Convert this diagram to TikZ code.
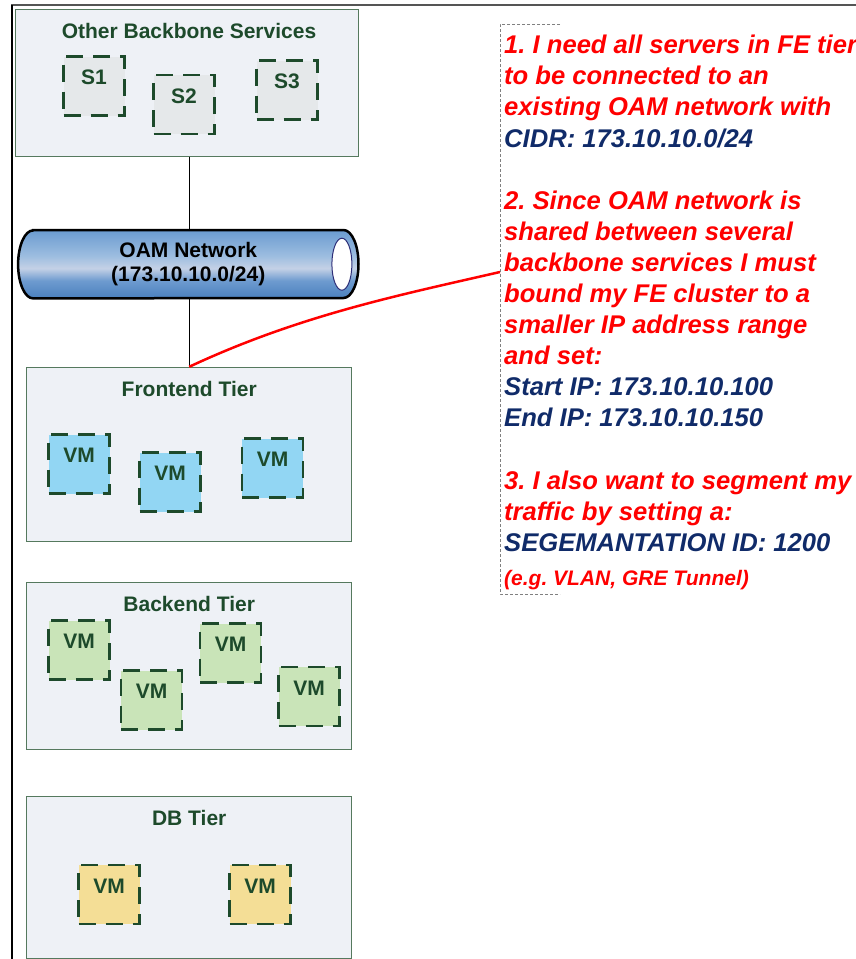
\documentclass[tikz,border=0pt]{standalone}
\usepackage{fontspec}
\setmainfont{Liberation Sans}
\usetikzlibrary{calc}
\definecolor{tierfill}{HTML}{EEF1F6}
\definecolor{tierdraw}{HTML}{55795E}
\definecolor{dkgreen}{HTML}{1D4A2B}
\definecolor{sfill}{HTML}{E5E8EA}
\definecolor{fefill}{HTML}{92D6F3}
\definecolor{befill}{HTML}{C9E4B8}
\definecolor{dbfill}{HTML}{F4DE96}
\definecolor{navytxt}{HTML}{102B69}
\definecolor{notered}{HTML}{FF0000}
\definecolor{pipeA}{HTML}{4A80BE}
\definecolor{pipeB}{HTML}{6E9BCF}
\definecolor{pipeC}{HTML}{C4D1E6}
\definecolor{pipeD}{HTML}{9DBDE0}
\definecolor{pipeE}{HTML}{6A9BD0}
\definecolor{ringblue}{HTML}{2E2F78}
\definecolor{framegray}{HTML}{555555}
\definecolor{dashgray}{HTML}{808080}
\pgfdeclareverticalshading{pipeshade}{100bp}{color(0bp)=(pipeA); color(25bp)=(pipeA); color(38bp)=(pipeB); color(47bp)=(pipeC); color(56bp)=(pipeD); color(75bp)=(pipeE); color(100bp)=(pipeE)}
\frenchspacing
\begin{document}
\begin{tikzpicture}[x=1pt,y=-1pt,
  tier/.style={draw=tierdraw, fill=tierfill, line width=1pt, inner sep=0pt},
  tiertitle/.style={text=dkgreen, font=\bfseries\fontsize{21}{24}\selectfont, anchor=base, inner sep=0pt},
  vmbox/.style={draw=dkgreen, line width=2.4pt, dash pattern=on 17pt off 10pt,
    minimum width=61pt, minimum height=59pt, inner sep=0pt, text=dkgreen,
    font=\bfseries\fontsize{21}{24}\selectfont, text depth=17pt},
  conn/.style={draw=black, line width=1.3pt},
  redline/.style={draw=notered, line width=2.5pt},
  notetext/.style={anchor=north west, inner sep=0pt, align=left, text=notered,
    font=\bfseries\itshape\fontsize{25.6}{31.1}\selectfont},
  bracket/.style={draw=dashgray, line width=0.9pt, dash pattern=on 3pt off 2pt}
]
\useasboundingbox (0,0) rectangle (856,959);
\fill[white] (0,0) rectangle (856,959);

% frame lines
\draw[framegray, line width=2pt] (11,5) -- (856,5);
\draw[black, line width=1.5pt] (12,5) -- (12,959);

% Other backbone services
\node[tier, minimum width=343pt, minimum height=147pt] (obs) at (186.5,82.7) {};
\node[tiertitle] (obst) at (189,38) {Other Backbone Services};
\node[vmbox, fill=sfill] (s1) at (94,86) {S1};
\node[vmbox, fill=sfill] (s2) at (184,104.5) {S2};
\node[vmbox, fill=sfill] (s3) at (287,90) {S3};

% OAM network pipe
\node[minimum width=340pt, minimum height=68pt, inner sep=0pt] (oam) at (188.3,264.2) {};
\path[draw=black, line width=2.5pt, shading=pipeshade]
  ([xshift=15pt]oam.north west) -- ([xshift=-15pt]oam.north east)
  arc[start angle=90, end angle=-90, x radius=15pt, y radius=34pt]
  -- ([xshift=15pt]oam.south west)
  arc[start angle=270, end angle=90, x radius=15pt, y radius=34pt] -- cycle;
\draw[fill=white, draw=ringblue, line width=1pt] ([xshift=-16.6pt]oam.east) ellipse [x radius=10pt, y radius=26pt];
\node[font=\bfseries\fontsize{21}{24}\selectfont, align=center, inner sep=0pt] (oamt) at (oam.center) {OAM Network\\(173.10.10.0/24)};

% Frontend tier
\node[tier, minimum width=325pt, minimum height=174.4pt] (fe) at (189.2,454.5) {};
\node[tiertitle] (fet) at (189.2,396) {Frontend Tier};
\node[vmbox, fill=fefill] (fe1) at (79,464) {VM};
\node[vmbox, fill=fefill] (fe2) at (170,482) {VM};
\node[vmbox, fill=fefill] (fe3) at (272.5,468) {VM};

% Backend tier
\node[tier, minimum width=325pt, minimum height=167.3pt] (be) at (189.2,666.3) {};
\node[tiertitle] (bet) at (189.2,611.7) {Backend Tier};
\node[vmbox, fill=befill] (be1) at (79,650) {VM};
\node[vmbox, fill=befill] (be2) at (151.5,700) {VM};
\node[vmbox, fill=befill] (be3) at (230.5,653) {VM};
\node[vmbox, fill=befill] (be4) at (309,696.5) {VM};

% DB tier
\node[tier, minimum width=325pt, minimum height=161.6pt] (db) at (189.2,877.5) {};
\node[tiertitle] (dbt) at (189.2,825) {DB Tier};
\node[vmbox, fill=dbfill] (db1) at (109,894.5) {VM};
\node[vmbox, fill=dbfill] (db2) at (260,894.5) {VM};

% connectors
\draw[conn] (fe.north |- obs.south) -- (fe.north |- oam.north);
\draw[conn] (fe.north |- oam.south) -- (fe.north);

% note
\draw[bracket] (560,24) -- (500,24) -- (500,594) -- (560,594);
\node[notetext] (note) at (504,35) {%
1. I need all servers in FE tier\\
to be connected to an\\
existing OAM network with\\
\textcolor{navytxt}{CIDR: 173.10.10.0/24}\\[31.1pt]
2. Since OAM network is\\
shared between several\\
backbone services I must\\
bound my FE cluster to a\\
smaller IP address range\\
and set:\\
\textcolor{navytxt}{Start IP: 173.10.10.100}\\
\textcolor{navytxt}{End IP: 173.10.10.150}\\[31.1pt]
3. I also want to segment my\\
traffic by setting a:\\
\textcolor{navytxt}{SEGEMANTATION ID: 1200}\\[3pt]
{\fontsize{21}{25}\selectfont (e.g. VLAN, GRE Tunnel)}};
\coordinate (tip) at (500,272);
\draw[redline] (fe.north) .. controls (300,315) and (400,295) .. (tip);
\end{tikzpicture}
\end{document}
